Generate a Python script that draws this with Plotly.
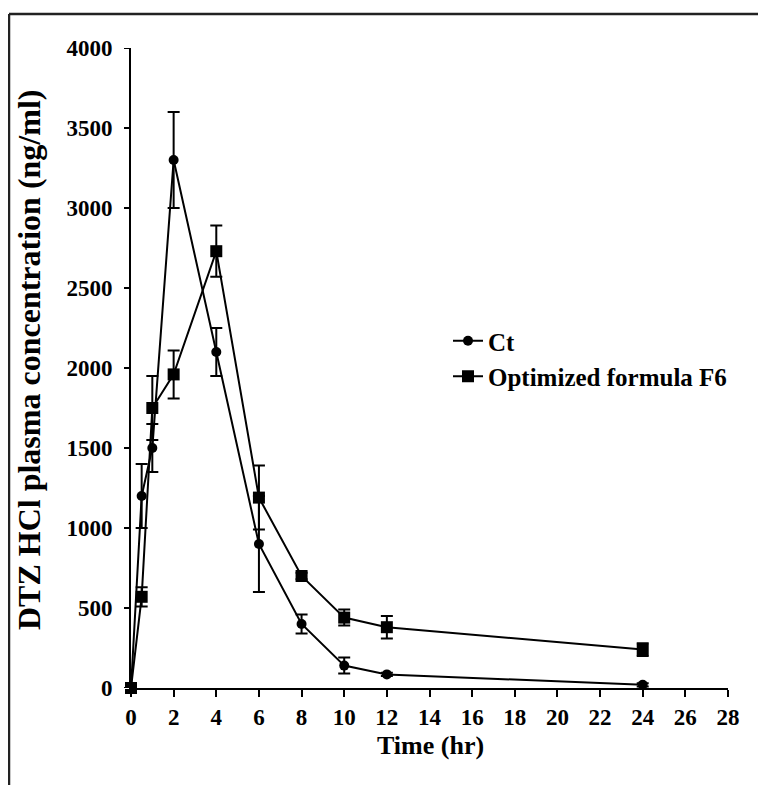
import plotly.graph_objects as go

time = [0, 0.5, 1, 2, 4, 6, 8, 10, 12, 24]
ct = [0, 1200, 1500, 3300, 2100, 900, 400, 140, 85, 20]
ct_err = [0, 200, 150, 300, 150, 300, 60, 50, 10, 10]
f6 = [0, 570, 1750, 1960, 2730, 1190, 700, 440, 380, 240]
f6_err = [0, 60, 200, 150, 160, 200, 20, 50, 70, 40]

x_ticks = list(range(0, 29, 2))
y_ticks = list(range(0, 4001, 500))

FONT = "Liberation Serif"
OFF = 8  # page body margin
W, H = 766 - OFF, 785 - OFF
L, R, T, B = 131 - OFF, 38, 48 - OFF, 97
pw, ph = W - L - R, H - T - B


def px(sx):
    return (sx - OFF - L) / pw


def py(sy):
    return 1 - (sy - OFF - T) / ph


fig = go.Figure()
fig.add_trace(go.Scatter(
    x=time, y=ct, name="Ct", mode="lines+markers",
    line=dict(color="black", width=2),
    marker=dict(symbol="circle", size=10, color="black"),
    error_y=dict(type="data", array=ct_err, visible=True, color="black", thickness=2, width=6),
    cliponaxis=False,
))
fig.add_trace(go.Scatter(
    x=time, y=f6, name="Optimized formula F6", mode="lines+markers",
    line=dict(color="black", width=2),
    marker=dict(symbol="square", size=12, color="black"),
    error_y=dict(type="data", array=f6_err, visible=True, color="black", thickness=2, width=6),
    cliponaxis=False,
))

fig.update_layout(
    width=W, height=H,
    margin=dict(l=L, r=R, t=T, b=B),
    paper_bgcolor="white", plot_bgcolor="white",
    font=dict(family=FONT, color="black", size=20, weight="bold"),
    showlegend=True,
    legend=dict(
        x=px(448), y=py(318), xanchor="left", yanchor="top",
        font=dict(family=FONT, size=25, color="black", weight="bold"),
        bgcolor="rgba(0,0,0,0)", itemwidth=30, tracegroupgap=0,
    ),
    xaxis=dict(
        range=[0, 28], tickvals=x_ticks, ticktext=[str(v) for v in x_ticks],
        showgrid=False, zeroline=False, showline=True, linecolor="black", linewidth=2,
        ticks="outside", ticklen=7, tickwidth=2, tickcolor="black",
        tickfont=dict(family=FONT, size=23, color="black", weight="bold"),
    ),
    yaxis=dict(
        range=[0, 4000], tickvals=y_ticks, ticktext=[str(v) for v in y_ticks],
        showgrid=False, zeroline=False, showline=True, linecolor="black", linewidth=2,
        ticks="outside", ticklen=12, tickwidth=2, tickcolor="white",
        tickfont=dict(family=FONT, size=23, color="black", weight="bold"),
    ),
    annotations=[
        dict(text="DTZ HCl plasma concentration (ng/ml)", xref="paper", yref="paper",
             x=px(29), y=py(360), xanchor="center", yanchor="middle",
             textangle=-90, showarrow=False,
             font=dict(family=FONT, size=32, color="black", weight="bold")),
        dict(text="Time (hr)", xref="paper", yref="paper",
             x=px(430), y=py(745), xanchor="center", yanchor="middle",
             showarrow=False,
             font=dict(family=FONT, size=26, color="black", weight="bold")),
    ],
    shapes=[
        dict(type="line", xref="paper", yref="paper",
             x0=px(9), x1=px(9), y0=py(800), y1=py(14),
             line=dict(color="#222", width=2.5)),
        dict(type="line", xref="paper", yref="paper",
             x0=px(9), x1=px(780), y0=py(14), y1=py(14),
             line=dict(color="#222", width=2.5)),
    ] + [
        dict(type="line", xref="paper", yref="y",
             x0=px(124), x1=px(131), y0=v, y1=v,
             line=dict(color="black", width=2))
        for v in y_ticks
    ],
)

fig.write_html("out.html")
